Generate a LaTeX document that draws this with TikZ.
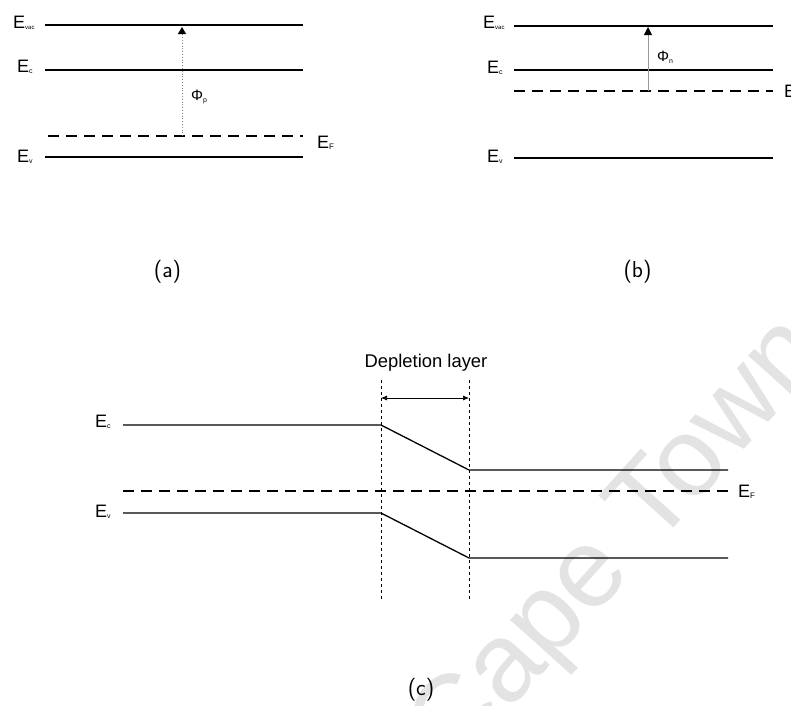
\documentclass[tikz,border=0pt]{standalone}
\usepackage{fontspec}
\setmainfont{Liberation Sans}
\usetikzlibrary{arrows.meta}

% energy label: big E with a small lowered index
\newcommand{\Elvl}[2][7]{{\fontsize{18}{20}\selectfont E}\raisebox{-1.5pt}{\fontsize{#1}{9}\selectfont #2}}
\newcommand{\Philbl}[1]{{\fontsize{15}{17}\selectfont Φ}\raisebox{-2pt}{\fontsize{7}{9}\selectfont #1}}

\tikzset{
  level/.style={line width=1.1pt},
  fermi/.style={line width=1.1pt, dash pattern=on 11pt off 7pt},
  bent/.style={line width=1.3pt, line join=round},
  lbl/.style={anchor=base west, inner sep=0pt},
  caption/.style={anchor=base, inner sep=0pt, font=\sffamily\fontsize{23}{26}\selectfont},
  boundary/.style={line width=0.8pt, dash pattern=on 3pt off 3pt},
  watermark/.style={anchor=base west, inner sep=0pt, text=black!11,
    font=\fontsize{112}{116}\selectfont},
}

\begin{document}
\begin{tikzpicture}[x=1pt,y=-1pt]
\useasboundingbox (0,0) rectangle (791,705);
\fill[white] (0,0) rectangle (791,705);

% background stamp
\node[watermark, rotate=48] (stamp) at (454,772) {Cape Town};

% ---------- (a) p-type ----------
\coordinate (aVacL) at (45,25);  \coordinate (aVacR) at (303,25);
\coordinate (aCL)   at (45,70);  \coordinate (aCR)   at (303,70);
\coordinate (aFL)   at (48,136); \coordinate (aFR)   at (303,136);
\coordinate (aVL)   at (45,157); \coordinate (aVR)   at (303,157);
\draw[level] (aVacL) -- (aVacR);
\draw[level] (aCL) -- (aCR);
\draw[fermi] (aFL) -- (aFR);
\draw[level] (aVL) -- (aVR);
\node[lbl] (aEvac) at (13,28)  {\Elvl[6]{vac}};
\node[lbl] (aEc)   at (17,72)  {\Elvl{c}};
\node[lbl] (aEv)   at (17,162) {\Elvl{v}};
\node[lbl] (aEF)   at (317,148) {\Elvl[8]{F}};
\coordinate (aPhiBot) at (182,136);
\coordinate (aPhiTop) at (182,27);
\draw[gray, dotted, line width=0.8pt,
      -{Triangle[width=8pt,length=7pt,color=black]}] (aPhiBot) -- (aPhiTop);
\node[lbl] (aPhi) at (191,100) {\Philbl{p}};
\node[caption] (capA) at (167.5,277) {(a)};

% ---------- (b) n-type ----------
\coordinate (bVacL) at (514,26); \coordinate (bVacR) at (773,26);
\coordinate (bCL)   at (514,70); \coordinate (bCR)   at (773,70);
\coordinate (bFL)   at (514,91); \coordinate (bFR)   at (773,91);
\coordinate (bVL)   at (514,158); \coordinate (bVR)  at (773,158);
\draw[level] (bVacL) -- (bVacR);
\draw[level] (bCL) -- (bCR);
\draw[fermi] (bFL) -- (bFR);
\draw[level] (bVL) -- (bVR);
\node[lbl] (bEvac) at (483,28)  {\Elvl[6]{vac}};
\node[lbl] (bEc)   at (487,73)  {\Elvl{c}};
\node[lbl] (bEv)   at (487,162) {\Elvl{v}};
\node[lbl] (bEF)   at (784,97)  {\Elvl[8]{F}};
\coordinate (bPhiBot) at (648,91);
\coordinate (bPhiTop) at (648,27);
\draw[gray!80, line width=0.9pt,
      -{Triangle[width=8pt,length=8pt,color=black]}] (bPhiBot) -- (bPhiTop);
\node[lbl] (bPhi) at (657,61) {\Philbl{n}};
\node[caption] (capB) at (637.5,277) {(b)};

% ---------- (c) p-n junction ----------
\coordinate (jL) at (381,380); \coordinate (jLb) at (381,600);
\coordinate (jR) at (469,380); \coordinate (jRb) at (469,600);
\draw[boundary] (jL) -- (jLb);
\draw[boundary] (jR) -- (jRb);
\coordinate (wL) at (381,398); \coordinate (wR) at (469,398);
\draw[line width=0.7pt, {Latex[length=6pt,width=5pt]}-{Latex[length=6pt,width=5pt]}] (wL) -- (wR);
\node[anchor=base, inner sep=0pt, font=\fontsize{18.4}{20}\selectfont] (dep) at (426,367) {Depletion layer};

\coordinate (cC1) at (123,425); \coordinate (cC2) at (381,425);
\coordinate (cC3) at (469,470); \coordinate (cC4) at (728,470);
\coordinate (cV1) at (123,513); \coordinate (cV2) at (381,513);
\coordinate (cV3) at (469,558); \coordinate (cV4) at (728,558);
\coordinate (cF1) at (123,491); \coordinate (cF2) at (728,491);
\draw[bent] (cC1) -- (cC2) -- (cC3) -- (cC4);
\draw[fermi] (cF1) -- (cF2);
\draw[bent] (cV1) -- (cV2) -- (cV3) -- (cV4);
\node[lbl] (cEc) at (95,427) {\Elvl{c}};
\node[lbl] (cEv) at (95,517) {\Elvl{v}};
\node[lbl] (cEF) at (738,497) {\Elvl[8]{F}};
\node[caption] (capC) at (421,695) {(c)};
\end{tikzpicture}
\end{document}
